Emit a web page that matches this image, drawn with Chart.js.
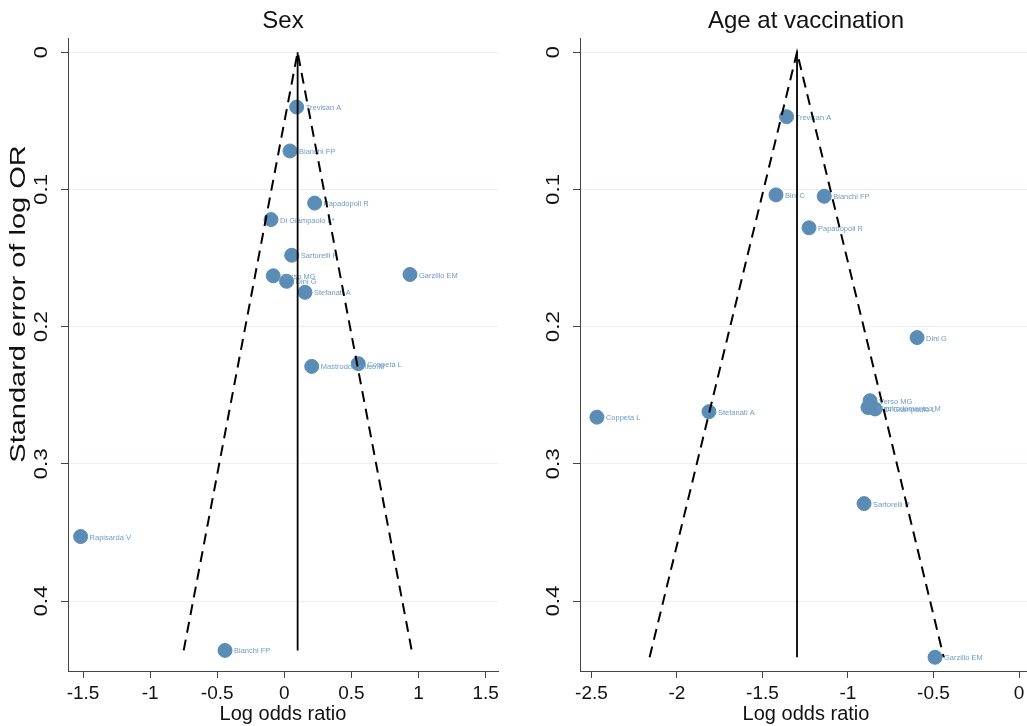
<!DOCTYPE html>
<html>
<head>
<meta charset="utf-8">
<script src="https://cdn.jsdelivr.net/npm/chart.js@4.4.0/dist/chart.umd.min.js"></script>
<style>
    html, body { margin: 0; padding: 0; background: #fff; overflow: hidden; }
    #wrap { position: relative; width: 1027px; height: 726px; overflow: hidden; }
    .panel { position: absolute; top: 0; height: 726px; }
    #sexPanel { left: 0; width: 513px; }
    #agePanel { left: 513px; width: 540px; }
</style>
</head>
<body>
<div id="wrap">
    <div class="panel" id="sexPanel"><canvas id="sexChart" width="513" height="726"></canvas></div>
    <div class="panel" id="agePanel"><canvas id="ageChart" width="540" height="726"></canvas></div>
</div>
<script>
// Sex panel
const sexStudies = ['Trevisan A', 'Bianchi FP', 'Papadopoli R', 'Di Giampaolo L*', 'Sartorelli P', 'Verso MG',
    'Dini G', 'Stefanati A', 'Garzillo EM', 'Coppeta L', 'Mastrodomenico M', 'Rapisarda V', 'Bianchi FP'];
const sexLogOR = [0.092, 0.042, 0.226, -0.099, 0.055, -0.083, 0.017, 0.154, 0.936, 0.551, 0.204, -1.518, -0.442];
const sexSE = [0.040, 0.072, 0.110, 0.122, 0.148, 0.163, 0.167, 0.175, 0.162, 0.227, 0.229, 0.353, 0.436];
const sexFunnelX = [-0.75, 0.099, 0.949];
const sexFunnelSE = [0.436, 0, 0.436];
const sexPooled = 0.099;
const sexXTicks = [-1.5, -1, -0.5, 0, 0.5, 1, 1.5];

// Age at vaccination panel
const ageStudies = ['Trevisan A', 'Bini C', 'Bianchi FP', 'Papadopoli R', 'Dini G', 'Verso MG',
    'Mastrodomenico M', 'Di Giampaolo L', 'Stefanati A', 'Coppeta L', 'Sartorelli P', 'Garzillo EM'];
const ageLogOR = [-1.359, -1.421, -1.139, -1.228, -0.596, -0.871, -0.883, -0.842, -1.813, -2.468, -0.906, -0.491];
const ageSE = [0.047, 0.104, 0.105, 0.128, 0.208, 0.254, 0.259, 0.260, 0.262, 0.266, 0.329, 0.441];
const ageFunnelX = [-2.16, -1.298, -0.44];
const ageFunnelSE = [0.441, 0, 0.441];
const agePooled = -1.298;
const ageXTicks = [-2.5, -2, -1.5, -1, -0.5, 0];

const seTicks = [0, 0.1, 0.2, 0.3, 0.4];

const FONT = '"Liberation Sans", Arial, Helvetica, sans-serif';
const pointColor = '#5a8cb6';
const labelColor = '#6f9bc6';
const axisColor = '#444';

// study names next to each marker
const studyLabels = {
    id: 'studyLabels',
    afterDatasetDraw(chart, args) {
        const ds = chart.data.datasets[args.index];
        if (!ds.studyNames) return;
        const ctx = chart.ctx;
        ctx.save();
        ctx.font = '7.5px ' + FONT;
        ctx.fillStyle = labelColor;
        ctx.textAlign = 'left';
        ctx.textBaseline = 'middle';
        args.meta.data.forEach((pt, i) => {
            ctx.fillText(ds.studyNames[i], pt.x + 9, pt.y + 1);
        });
        ctx.restore();
    }
};

// rotated (and a bit stretched) y tick labels and y title, like the Stata output
const rotatedYText = {
    id: 'rotatedYText',
    afterDraw(chart, args, opts) {
        const y = chart.scales.y;
        const ctx = chart.ctx;
        ctx.save();
        ctx.fillStyle = '#111';
        ctx.textAlign = 'center';
        ctx.textBaseline = 'middle';
        ctx.font = '19px ' + FONT;
        y.ticks.forEach(t => {
            const py = y.getPixelForValue(t.value);
            ctx.save();
            ctx.translate(y.right - 26, py);
            ctx.rotate(-Math.PI / 2);
            ctx.scale(1.18, 1);
            ctx.fillText(String(t.value), 0, 0);
            ctx.restore();
        });
        if (opts.title) {
            ctx.save();
            ctx.font = '21px ' + FONT;
            ctx.translate(y.left + 19, 304);
            ctx.rotate(-Math.PI / 2);
            ctx.scale(1.38, 1.05);
            ctx.fillText(opts.title, 0, 0);
            ctx.restore();
        }
        ctx.restore();
    }
};

function makeFunnel(canvasId, opts) {
    const points = opts.x.map((v, i) => ({ x: v, y: opts.se[i] }));
    const funnel = opts.funnelX.map((v, i) => ({ x: v, y: opts.funnelSE[i] }));
    const maxSE = Math.max(...opts.funnelSE);
    const centre = [{ x: opts.pooled, y: 0 }, { x: opts.pooled, y: maxSE }];

    return new Chart(document.getElementById(canvasId), {
        type: 'scatter',
        data: {
            datasets: [
                {
                    data: points,
                    studyNames: opts.names,
                    backgroundColor: pointColor,
                    borderColor: pointColor,
                    pointRadius: 7,
                    order: 3
                },
                {
                    type: 'line',
                    data: funnel,
                    borderColor: '#000',
                    borderWidth: 2,
                    borderDash: [11, 7],
                    pointRadius: 0,
                    fill: false,
                    order: 1
                },
                {
                    type: 'line',
                    data: centre,
                    borderColor: '#000',
                    borderWidth: 1.8,
                    pointRadius: 0,
                    fill: false,
                    order: 2
                }
            ]
        },
        options: {
            responsive: false,
            animation: false,
            layout: { padding: { left: 0, right: opts.padRight, top: 0, bottom: 0 } },
            plugins: {
                legend: { display: false },
                tooltip: { enabled: false },
                rotatedYText: { title: opts.yTitle },
                title: {
                    display: true,
                    text: opts.title,
                    fullSize: false,
                    color: '#111',
                    font: { family: FONT, size: 24, weight: 'normal' },
                    padding: { top: 6.6, bottom: 2.8 }
                }
            },
            scales: {
                x: {
                    type: 'linear',
                    min: opts.xMin,
                    max: opts.xMax,
                    afterBuildTicks: s => { s.ticks = opts.xTicks.map(v => ({ value: v })); },
                    afterFit: s => { s.height = 55; },
                    grid: { drawOnChartArea: false, tickLength: 7, tickColor: axisColor },
                    border: { color: axisColor, width: 1 },
                    ticks: {
                        color: '#111',
                        padding: 4,
                        maxRotation: 0,
                        font: { family: FONT, size: 19 },
                        callback: v => String(v)
                    },
                    title: {
                        display: true,
                        text: 'Log odds ratio',
                        color: '#111',
                        font: { family: FONT, size: 20 },
                        padding: { top: 0, bottom: 0 }
                    }
                },
                y: {
                    type: 'linear',
                    reverse: true,
                    min: -0.0102,
                    max: 0.451,
                    afterBuildTicks: s => { s.ticks = seTicks.map(v => ({ value: v })); },
                    afterFit: s => { s.width = opts.yWidth; },
                    grid: { color: '#e9f2f2', lineWidth: 1, tickLength: 7, tickColor: axisColor },
                    border: { color: axisColor, width: 1 },
                    ticks: { display: false },
                    title: { display: false }
                }
            }
        },
        plugins: [studyLabels, rotatedYText]
    });
}

makeFunnel('sexChart', {
    title: 'Sex',
    names: sexStudies,
    x: sexLogOR,
    se: sexSE,
    funnelX: sexFunnelX,
    funnelSE: sexFunnelSE,
    pooled: sexPooled,
    xTicks: sexXTicks,
    xMin: -1.612,
    xMax: 1.592,
    yWidth: 68,
    yTitle: 'Standard error of log OR',
    padRight: 15
});

makeFunnel('ageChart', {
    title: 'Age at vaccination',
    names: ageStudies,
    x: ageLogOR,
    se: ageSE,
    funnelX: ageFunnelX,
    funnelSE: ageFunnelSE,
    pooled: agePooled,
    xTicks: ageXTicks,
    xMin: -2.567,
    xMax: 0.076,
    yWidth: 67,
    yTitle: null,
    padRight: 21
});
</script>
</body>
</html>
